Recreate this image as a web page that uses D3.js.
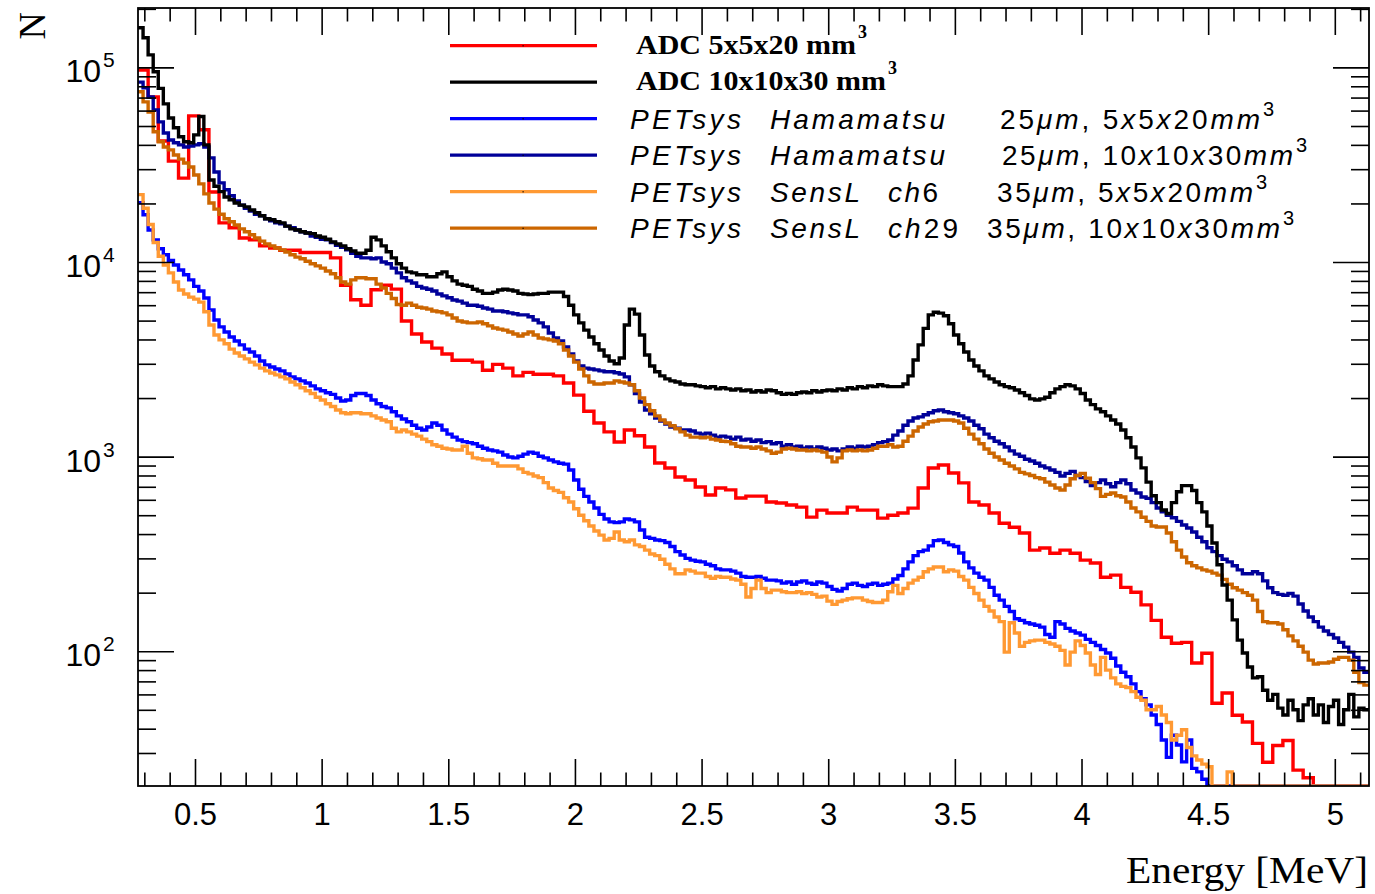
<!DOCTYPE html>
<html>
<head>
<meta charset="utf-8">
<script src="https://cdn.jsdelivr.net/npm/d3@7"></script>
<style>
body { margin: 0; background: #fff; }
svg { display: block; }
</style>
</head>
<body>
<svg id="chart" width="1375" height="894"></svg>
<script>
// axis ranges
var energyMin = 0.275
var energyMax = 5.135
var countMin = 20.3
var countMax = 202000

// bin widths of the histograms (MeV)
var adcBinWidth = 0.04
var petBinWidth = 0.02

var xTickValues = [0.5, 1, 1.5, 2, 2.5, 3, 3.5, 4, 4.5, 5]
var xTickLabels = ['0.5', '1', '1.5', '2', '2.5', '3', '3.5', '4', '4.5', '5']
var yDecades = [2, 3, 4, 5]

var seriesNames = [
    'ADC 5x5x20 mm',
    'ADC 10x10x30 mm',
    'PETsys|Hamamatsu|25μm, 5x5x20mm',
    'PETsys|Hamamatsu|25μm, 10x10x30mm',
    'PETsys|SensL|ch6|35μm, 5x5x20mm',
    'PETsys|SensL|ch29|35μm, 10x10x30mm'
]

// ADC 5x5x20 mm3, 0.04 MeV bins
var adc5x5 = [
    97000, 70500, 41900, 33000, 27000, 56400, 47800, 22900, 15900, 15000,
    13300, 13000, 12100, 11800, 11500, 11500, 11200, 11200, 11200, 10500,
    7600, 6400, 6000, 7200, 7600, 7260, 4980, 4270, 3880, 3610,
    3370, 3130, 3130, 3060, 2780, 2980, 2850, 2600, 2710, 2650,
    2650, 2600, 2390, 2070, 1710, 1490, 1340, 1190, 1370, 1280,
    1120, 927, 874, 786, 759, 698, 635, 690, 675, 613,
    627, 627, 585, 578, 564, 550, 489, 531, 513, 513,
    550, 531, 531, 483, 500, 513, 544, 690, 874, 905,
    824, 733, 585, 564, 513, 455, 434, 405, 331, 339,
    319, 331, 319, 294, 284, 240, 246, 213, 201, 173,
    144, 118, 110, 111, 87, 97.6, 54, 61, 46.9, 43.3,
    33.6, 26.9, 32.8, 34.8, 24.5, 22.4, 0, 0, 0, 0,
    0, 0
]

// ADC 10x10x30 mm3, 0.02 MeV bins
var adc10x10 = [
    160000, 142000, 116000, 95000, 78000, 65000, 55000, 49000, 44000, 41500,
    41000, 45000, 56000, 40000, 26400, 24500, 23000, 21600, 20900, 20100,
    19600, 19200, 18500, 17900, 17300, 16700, 16500, 16100, 15900, 15300,
    14800, 14600, 14300, 14100, 14000, 13600, 13400, 13100, 12700, 12400,
    12100, 11700, 11400, 11100, 11100, 11500, 13400, 13000, 12100, 11300,
    10500, 9800, 9300, 8900, 8800, 8600, 8600, 8400, 8400, 8700,
    8900, 8400, 8000, 7700, 7600, 7500, 7250, 7100, 6900, 6900,
    7000, 7180, 7250, 7180, 7100, 6900, 6850, 6800, 6850, 6900,
    6900, 7000, 7000, 7000, 6650, 6000, 5350, 4870, 4470, 4120,
    3800, 3530, 3290, 3100, 3000, 3210, 4750, 5730, 5400, 4220,
    3330, 2920, 2730, 2600, 2510, 2450, 2420, 2360, 2340, 2340,
    2310, 2290, 2260, 2290, 2230, 2260, 2230, 2200, 2230, 2180,
    2200, 2150, 2180, 2150, 2200, 2180, 2130, 2090, 2110, 2090,
    2130, 2150, 2130, 2180, 2150, 2180, 2200, 2180, 2230, 2200,
    2260, 2230, 2290, 2260, 2310, 2290, 2340, 2310, 2290, 2290,
    2290, 2360, 2600, 3140, 3750, 4560, 5350, 5520, 5460, 5300,
    4820, 4220, 3800, 3450, 3140, 2920, 2760, 2600, 2510, 2420,
    2340, 2290, 2260, 2200, 2130, 2060, 1980, 1955, 1980, 2020,
    2130, 2230, 2290, 2340, 2310, 2230, 2110, 1955, 1850, 1760,
    1700, 1620, 1543, 1470, 1370, 1250, 1120, 985, 875, 740,
    630, 580, 532, 510, 580, 660, 710, 710, 670, 580,
    520, 440, 360, 278, 219, 183, 145, 114, 98, 83,
    73, 74, 63, 56, 60, 51, 47, 56, 50, 44,
    53, 57, 47, 53, 43, 52, 56, 42, 50, 60,
    46, 51, 50
]

// PETsys Hamamatsu 25um, 5x5x20 mm3
var hama5x5 = [
    20200, 17500, 14600, 13000, 11700, 10900, 10200, 9650, 9100, 8600,
    8100, 7500, 7100, 6530, 5670, 5040, 4640, 4370, 4120, 3930,
    3750, 3570, 3450, 3290, 3100, 2960, 2890, 2820, 2760, 2660,
    2570, 2510, 2450, 2390, 2310, 2230, 2180, 2130, 2090, 2000,
    1930, 1955, 2060, 2110, 2110, 2060, 1955, 1870, 1810, 1780,
    1700, 1620, 1560, 1510, 1450, 1400, 1371, 1420, 1490, 1450,
    1371, 1305, 1260, 1218, 1195, 1180, 1165, 1130, 1105, 1082,
    1070, 1055, 1020, 995, 985, 1005, 1030, 1055, 1040, 1005,
    985, 961, 940, 925, 915, 854, 759, 680, 625, 585,
    545, 505, 478, 462, 458, 462, 478, 473, 462, 420,
    385, 380, 373, 370, 362, 345, 325, 312, 300, 294,
    290, 288, 280, 275, 265, 262, 262, 258, 252, 242,
    240, 240, 242, 237, 232, 232, 230, 224, 227, 221,
    227, 230, 224, 221, 227, 224, 215, 208, 204, 210,
    221, 224, 218, 215, 221, 224, 218, 221, 224, 235,
    245, 265, 288, 310, 325, 331, 348, 370, 373, 362,
    352, 345, 320, 288, 268, 252, 240, 232, 213, 194,
    183, 170, 160, 147, 144, 140, 138, 136, 133, 122,
    118, 142, 138, 131, 127, 124, 121, 115, 111, 107,
    102, 98, 92, 84, 78, 74, 68, 62, 57, 53,
    47, 42, 35, 28.5, 37, 33, 27, 35, 25, 24,
    22, 0, 0, 0, 0, 0, 0, 0, 0, 0,
    0, 0, 0, 0, 0, 0, 0, 0, 0, 0,
    0, 0, 0, 0, 0, 0, 0, 0, 0, 0,
    0, 0, 0
]

// PETsys Hamamatsu 25um, 10x10x30 mm3
var hama10x10 = [
    84000, 78500, 70500, 60500, 52500, 46000, 42400, 41000, 40000, 39000,
    39500, 40000, 40500, 39000, 34300, 29000, 25500, 23500, 21900, 20600,
    19600, 18900, 18300, 17600, 17300, 16700, 16300, 15900, 15700, 15300,
    15000, 14600, 14300, 14100, 13600, 13400, 13100, 13000, 12600, 12200,
    11900, 11550, 11100, 10700, 10500, 10500, 10400, 10500, 10000, 9800,
    9300, 8800, 8300, 8000, 7800, 7500, 7350, 7250, 7100, 6850,
    6700, 6550, 6380, 6300, 6150, 6000, 6000, 5930, 5800, 5730,
    5600, 5600, 5550, 5480, 5420, 5350, 5350, 5230, 5040, 4870,
    4640, 4320, 4070, 3930, 3660, 3370, 3100, 2920, 2850, 2820,
    2790, 2760, 2730, 2730, 2700, 2660, 2570, 2340, 2110, 1910,
    1737, 1660, 1580, 1525, 1470, 1420, 1400, 1371, 1371, 1355,
    1320, 1305, 1320, 1290, 1260, 1275, 1260, 1230, 1260, 1218,
    1230, 1200, 1218, 1180, 1195, 1165, 1180, 1130, 1150, 1120,
    1130, 1105, 1120, 1095, 1120, 1105, 1082, 1095, 1070, 1095,
    1120, 1105, 1130, 1120, 1130, 1150, 1180, 1195, 1218, 1290,
    1355, 1450, 1525, 1580, 1600, 1640, 1680, 1720, 1737, 1700,
    1680, 1660, 1620, 1580, 1525, 1450, 1390, 1305, 1250, 1200,
    1165, 1120, 1070, 1030, 1005, 970, 950, 925, 895, 875,
    854, 830, 795, 820, 840, 800, 780, 745, 710, 735,
    759, 725, 700, 735, 759, 725, 674, 650, 620, 610,
    580, 545, 520, 500, 485, 465, 445, 430, 410, 385,
    365, 340, 325, 310, 297, 288, 275, 262, 250, 250,
    256, 250, 230, 212, 200, 196, 194, 198, 192, 175,
    161, 150, 142, 133, 127, 122, 117, 111, 105, 99,
    93, 82, 78
]

// PETsys SensL ch6 35um, 5x5x20 mm3
var sensl5x5 = [
    22200, 18900, 15600, 12600, 10700, 9650, 8800, 7900, 7180, 6850,
    6600, 6450, 6220, 5550, 4750, 4220, 3980, 3800, 3570, 3410,
    3290, 3180, 3060, 2960, 2850, 2760, 2690, 2630, 2570, 2510,
    2420, 2340, 2260, 2180, 2110, 2020, 1955, 1870, 1810, 1737,
    1680, 1660, 1680, 1680, 1660, 1660, 1620, 1580, 1543, 1510,
    1400, 1340, 1371, 1340, 1305, 1275, 1230, 1195, 1150, 1130,
    1105, 1095, 1082, 1082, 1130, 1040, 985, 975, 961, 961,
    925, 895, 895, 895, 895, 865, 830, 815, 795, 780,
    735, 690, 670, 655, 615, 585, 540, 500, 468, 440,
    415, 395, 373, 380, 410, 373, 365, 373, 352, 345,
    331, 316, 310, 297, 280, 265, 250, 250, 262, 258,
    252, 252, 242, 237, 242, 240, 240, 235, 232, 221,
    190, 210, 232, 210, 200, 206, 206, 202, 200, 200,
    202, 198, 200, 196, 190, 192, 181, 174, 180, 183,
    186, 188, 188, 183, 180, 178, 178, 183, 202, 218,
    198, 210, 224, 232, 240, 256, 265, 271, 271, 256,
    262, 258, 242, 232, 213, 198, 183, 170, 161, 150,
    142, 99, 140, 124, 106, 111, 113, 114, 114, 111,
    109, 106, 101, 85, 99, 113, 107, 98, 85, 76,
    93, 80, 73, 68, 66, 65, 62, 58, 56, 50,
    50, 52, 47, 43, 35, 37, 39.5, 32, 29, 27.6,
    26.3, 25.5, 0, 0, 0, 24, 0, 0, 0, 0,
    0, 0, 0, 0, 0, 0, 0, 0, 0, 0,
    0, 0, 0, 0, 0, 0, 0, 0, 0, 0,
    0, 0, 0
]

// PETsys SensL ch29 35um, 10x10x30 mm3
var sensl10x10 = [
    75000, 66500, 59000, 46700, 41500, 39000, 37700, 35500, 33800, 32300,
    30800, 28000, 25200, 22400, 20100, 18700, 17600, 16700, 16100, 15500,
    14800, 14300, 13800, 13300, 12800, 12400, 12100, 11800, 11550, 11250,
    10900, 10600, 10400, 10100, 9800, 9550, 9300, 9000, 8700, 8300,
    7900, 7700, 8100, 8300, 8300, 8200, 8200, 7700, 7350, 6900,
    6500, 6050, 6000, 6150, 6000, 5860, 5800, 5730, 5600, 5550,
    5480, 5350, 5160, 4980, 4920, 4870, 4870, 4920, 4820, 4700,
    4580, 4520, 4470, 4370, 4270, 4170, 4270, 4370, 4220, 4070,
    4030, 3980, 3930, 3800, 3530, 3290, 3060, 2820, 2600, 2420,
    2360, 2360, 2390, 2390, 2450, 2420, 2390, 2340, 2180, 2000,
    1850, 1720, 1620, 1543, 1490, 1440, 1390, 1340, 1290, 1260,
    1260, 1250, 1260, 1230, 1218, 1200, 1195, 1165, 1130, 1120,
    1120, 1105, 1120, 1095, 1070, 1040, 1055, 1095, 1105, 1095,
    1082, 1082, 1070, 1082, 1070, 1055, 995, 940, 985, 1070,
    1082, 1070, 1082, 1070, 1082, 1105, 1130, 1130, 1150, 1120,
    1130, 1200, 1275, 1355, 1420, 1470, 1510, 1525, 1543, 1543,
    1543, 1525, 1490, 1400, 1305, 1230, 1165, 1095, 1040, 995,
    961, 925, 895, 865, 830, 815, 800, 780, 770, 740,
    715, 690, 674, 715, 770, 800, 820, 775, 735, 685,
    625, 640, 650, 630, 620, 585, 545, 520, 488, 465,
    440, 435, 435, 405, 365, 331, 305, 285, 275, 268,
    262, 258, 252, 246, 234, 221, 212, 206, 200, 194,
    183, 160, 142, 140, 140, 138, 129, 120, 113, 106,
    99, 90, 86, 87, 87, 88, 91, 93, 93, 90,
    78, 69, 67
]

var width = 1375
var height = 894
var frame = { left: 138, right: 1369, top: 8, bottom: 786 }

var svg = d3.select('#chart')

var xScale = d3.scaleLinear()
    .domain([energyMin, energyMax])
    .range([frame.left, frame.right])
var yScale = d3.scaleLog()
    .domain([countMin, countMax])
    .range([frame.bottom, frame.top])

svg.append('defs').append('clipPath')
    .attr('id', 'plotClip')
    .append('rect')
    .attr('x', frame.left)
    .attr('y', frame.top)
    .attr('width', frame.right - frame.left)
    .attr('height', frame.bottom - frame.top)

// histograms, in the order they are stacked
var histograms = [
    { values: adc5x5, bin: adcBinWidth, color: '#ff0000' },
    { values: hama5x5, bin: petBinWidth, color: '#0000ff' },
    { values: hama10x10, bin: petBinWidth, color: '#000099' },
    { values: sensl5x5, bin: petBinWidth, color: '#ff9933' },
    { values: sensl10x10, bin: petBinWidth, color: '#cc6600' },
    { values: adc10x10, bin: petBinWidth, color: '#000000' }
]

var stepLine = d3.line()
    .curve(d3.curveStepAfter)
    .x(function (d) { return xScale(d[0]) })
    .y(function (d) { return yScale(Math.max(d[1], countMin)) })

function histPoints(values, bin) {
    var pts = values.map(function (v, i) { return [energyMin + i * bin, v] })
    pts.push([energyMin + values.length * bin, values[values.length - 1]])
    return pts
}

var plot = svg.append('g').attr('clip-path', 'url(#plotClip)')
plot.selectAll('path.hist')
    .data(histograms)
    .enter()
    .append('path')
    .attr('class', 'hist')
    .attr('fill', 'none')
    .attr('stroke', function (d) { return d.color })
    .attr('stroke-width', 3.4)
    .attr('stroke-linejoin', 'miter')
    .attr('d', function (d) { return stepLine(histPoints(d.values, d.bin)) })

// ticks
var xMinor = d3.range(3, 52).map(function (k) { return k / 10 })
    .filter(function (v) { return Math.round(v * 10) % 5 !== 0 })
var yMajor = yDecades.map(function (e) { return Math.pow(10, e) })
var yMinor = []
for (var e = 1; e <= 5; e++) {
    for (var m = 2; m <= 9; m++) {
        var v = m * Math.pow(10, e)
        if (v >= countMin && v <= countMax) yMinor.push(v)
    }
}

function styleAxis(g) {
    g.select('.domain').remove()
    g.selectAll('.tick line').attr('stroke', '#000').attr('stroke-width', 1.6)
}

svg.append('g')
    .attr('transform', 'translate(0,' + frame.bottom + ')')
    .call(d3.axisBottom(xScale).tickValues(xTickValues).tickSize(-27).tickPadding(17)
        .tickFormat(function (d, i) { return xTickLabels[i] }))
    .call(styleAxis)
    .call(function (g) {
        g.selectAll('text')
            .attr('font-family', '"Liberation Sans", Arial, sans-serif')
            .attr('font-size', 31)
            .attr('fill', '#000')
    })
svg.append('g')
    .attr('transform', 'translate(0,' + frame.bottom + ')')
    .call(d3.axisBottom(xScale).tickValues(xMinor).tickSize(-13.5).tickFormat(''))
    .call(styleAxis)
svg.append('g')
    .attr('transform', 'translate(0,' + frame.top + ')')
    .call(d3.axisTop(xScale).tickValues(xTickValues).tickSize(-27).tickFormat(''))
    .call(styleAxis)
svg.append('g')
    .attr('transform', 'translate(0,' + frame.top + ')')
    .call(d3.axisTop(xScale).tickValues(xMinor).tickSize(-13.5).tickFormat(''))
    .call(styleAxis)

svg.append('g')
    .attr('transform', 'translate(' + frame.left + ',0)')
    .call(d3.axisLeft(yScale).tickValues(yMajor).tickSize(-36).tickFormat(''))
    .call(styleAxis)
svg.append('g')
    .attr('transform', 'translate(' + frame.left + ',0)')
    .call(d3.axisLeft(yScale).tickValues(yMinor).tickSize(-18).tickFormat(''))
    .call(styleAxis)
svg.append('g')
    .attr('transform', 'translate(' + frame.right + ',0)')
    .call(d3.axisRight(yScale).tickValues(yMajor).tickSize(-36).tickFormat(''))
    .call(styleAxis)
svg.append('g')
    .attr('transform', 'translate(' + frame.right + ',0)')
    .call(d3.axisRight(yScale).tickValues(yMinor).tickSize(-18).tickFormat(''))
    .call(styleAxis)

// y labels 10^n
var yLab = svg.append('g').attr('font-family', '"Liberation Sans", Arial, sans-serif').attr('fill', '#000')
yDecades.forEach(function (e) {
    var yy = yScale(Math.pow(10, e))
    yLab.append('text')
        .attr('x', 101).attr('y', yy + 15)
        .attr('text-anchor', 'end')
        .attr('font-size', 32)
        .text('10')
    yLab.append('text')
        .attr('x', 103).attr('y', yy)
        .attr('font-size', 21)
        .text(String(e))
})

// frame
svg.append('rect')
    .attr('x', frame.left).attr('y', frame.top)
    .attr('width', frame.right - frame.left)
    .attr('height', frame.bottom - frame.top)
    .attr('fill', 'none')
    .attr('stroke', '#000')
    .attr('stroke-width', 1.8)

// axis titles
svg.append('text')
    .attr('transform', 'translate(45,12) rotate(-90)')
    .attr('text-anchor', 'end')
    .attr('font-family', '"Liberation Serif", "Times New Roman", serif')
    .attr('font-size', 38)
    .text('N')
svg.append('text')
    .attr('x', 1368).attr('y', 883)
    .attr('text-anchor', 'end')
    .attr('font-family', '"Liberation Serif", "Times New Roman", serif')
    .attr('font-size', 38)
    .attr('textLength', 242)
    .attr('lengthAdjust', 'spacingAndGlyphs')
    .text('Energy [MeV]')

// legend
var legendColors = ['#ff0000', '#000000', '#0000ff', '#000099', '#ff9933', '#cc6600']
var legendY0 = 45.7
var legendStep = 36.5
// column start and width for each piece of the PETsys labels
var legendCols = [
    null,
    null,
    [[630, 111], [770, 175], [1000, 260]],
    [[630, 111], [770, 175], [1002, 291]],
    [[630, 111], [770, 90], [888, 50], [997, 256]],
    [[630, 111], [770, 90], [888, 70], [987, 293]]
]
var adcWidths = [220, 250]

var legend = svg.append('g')
seriesNames.forEach(function (name, i) {
    var ly = legendY0 + i * legendStep
    legend.append('line')
        .attr('x1', 450).attr('x2', 597)
        .attr('y1', ly).attr('y2', ly)
        .attr('stroke', legendColors[i])
        .attr('stroke-width', 3.2)
    legend.append('rect')
        .attr('x', 522.5).attr('y', ly - 0.5)
        .attr('width', 1.2).attr('height', 1.2)
        .attr('fill', '#000')
    if (i < 2) {
        legend.append('text')
            .attr('x', 636).attr('y', ly + 8)
            .attr('font-family', '"Liberation Serif", "Times New Roman", serif')
            .attr('font-weight', 'bold')
            .attr('font-size', 28)
            .attr('textLength', adcWidths[i])
            .attr('lengthAdjust', 'spacingAndGlyphs')
            .text(name)
        legend.append('text')
            .attr('x', 638 + adcWidths[i]).attr('y', ly - 8)
            .attr('font-family', '"Liberation Serif", "Times New Roman", serif')
            .attr('font-weight', 'bold')
            .attr('font-size', 18)
            .text('3')
        return
    }
    var parts = name.split('|')
    var cols = legendCols[i]
    parts.forEach(function (part, j) {
        var t = legend.append('text')
            .attr('x', cols[j][0]).attr('y', ly + 10)
            .attr('font-family', '"Liberation Sans", Arial, sans-serif')
            .attr('font-size', 28)
            .attr('textLength', cols[j][1])
            .attr('lengthAdjust', 'spacing')
        // letters italic, digits and punctuation upright
        var chunks = part.match(/[A-Za-zμ]+|[^A-Za-zμ]+/g)
        chunks.forEach(function (c) {
            t.append('tspan')
                .attr('font-style', /[A-Za-zμ]/.test(c) ? 'italic' : 'normal')
                .text(c)
        })
    })
    var last = cols[cols.length - 1]
    legend.append('text')
        .attr('x', last[0] + last[1] + 3).attr('y', ly - 3)
        .attr('font-family', '"Liberation Sans", Arial, sans-serif')
        .attr('font-size', 20)
        .text('3')
})
</script>
</body>
</html>
